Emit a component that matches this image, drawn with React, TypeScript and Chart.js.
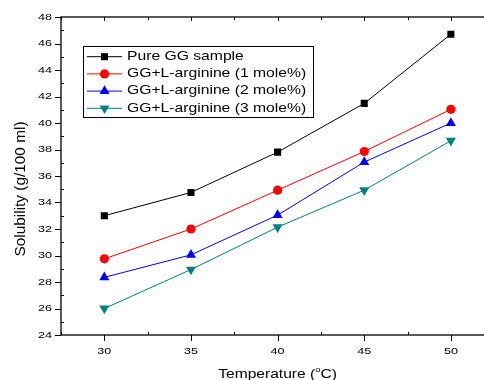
import React, { useEffect, useRef } from "react";
import { Chart, registerables } from "chart.js";

Chart.register(...registerables);

const temperatures = [30, 35, 40, 45, 50];
const pureGG = [33.0, 34.76, 37.8, 41.48, 46.7];
const arg1 = [29.75, 32.0, 34.93, 37.85, 41.03];
const arg2 = [28.35, 30.05, 33.05, 37.05, 40.0];
const arg3 = [26.0, 28.94, 32.14, 34.93, 38.66];
const seriesNames = [
  "Pure GG sample",
  "GG+L-arginine (1 mole%)",
  "GG+L-arginine (2 mole%)",
  "GG+L-arginine (3 mole%)",
];
const xTicks = [30, 35, 40, 45, 50];
const xMinorTicks = [27.5, 32.5, 37.5, 42.5, 47.5, 52.5];
const yTicks = [24, 26, 28, 30, 32, 34, 36, 38, 40, 42, 44, 46, 48];
const yMinorTicks = [25, 27, 29, 31, 33, 35, 37, 39, 41, 43, 45, 47];
const xTitle = "Temperature (";
const xTitleSup = "o";
const xTitleEnd = "C)";
const yTitle = "Solubility (g/100 ml)";

const FONT = "'Liberation Sans', Arial, sans-serif";
const SQUASH = 0.775;

type Style = { color: string; point: string; radius: number; rotation: number };
const styles: Style[] = [
  { color: "#000000", point: "rect", radius: 5, rotation: 0 },
  { color: "#ff0000", point: "circle", radius: 4.6, rotation: 0 },
  { color: "#0000ff", point: "triangle", radius: 5.8, rotation: 0 },
  { color: "#008080", point: "triangle", radius: 5.8, rotation: 180 },
];

function drawText(
  ctx: CanvasRenderingContext2D,
  text: string,
  x: number,
  y: number,
  size: number,
  align: CanvasTextAlign,
  baseline: CanvasTextBaseline
) {
  ctx.save();
  ctx.translate(x, y);
  ctx.scale(1, SQUASH);
  ctx.font = `${size}px ${FONT}`;
  ctx.textAlign = align;
  ctx.textBaseline = baseline;
  ctx.fillStyle = "#000";
  ctx.fillText(text, 0, 0);
  ctx.restore();
}

function drawMarker(ctx: CanvasRenderingContext2D, s: Style, x: number, y: number) {
  ctx.save();
  ctx.fillStyle = s.color;
  ctx.beginPath();
  const r = s.radius;
  if (s.point === "rect") {
    const h = Math.SQRT1_2 * r;
    ctx.rect(x - h, y - h, 2 * h, 2 * h);
  } else if (s.point === "circle") {
    ctx.arc(x, y, r, 0, Math.PI * 2);
  } else {
    const dir = s.rotation === 180 ? -1 : 1;
    ctx.moveTo(x, y - dir * r);
    ctx.lineTo(x + r * Math.cos(Math.PI / 6), y + dir * r * 0.5);
    ctx.lineTo(x - r * Math.cos(Math.PI / 6), y + dir * r * 0.5);
    ctx.closePath();
  }
  ctx.fill();
  ctx.restore();
}

const framePlugin = {
  id: "framePlugin",
  afterDraw(chart: any) {
    const ctx: CanvasRenderingContext2D = chart.ctx;
    const { left, right, top, bottom } = chart.chartArea;
    const xs = chart.scales.x;
    const ys = chart.scales.y;
    ctx.save();
    ctx.strokeStyle = "#000";
    ctx.lineWidth = 1.3;
    ctx.strokeRect(left, top, right - left, bottom - top);
    ctx.lineWidth = 1;
    ctx.beginPath();
    // x ticks
    xTicks.forEach((v) => {
      const px = Math.round(xs.getPixelForValue(v)) + 0.5;
      ctx.moveTo(px, bottom);
      ctx.lineTo(px, bottom + 6);
      ctx.moveTo(px, top);
      ctx.lineTo(px, top + 4);
    });
    xMinorTicks.forEach((v) => {
      const px = Math.round(xs.getPixelForValue(v)) + 0.5;
      ctx.moveTo(px, bottom);
      ctx.lineTo(px, bottom - 3);
      ctx.moveTo(px, top);
      ctx.lineTo(px, top + 3);
    });
    yTicks.forEach((v) => {
      const py = Math.round(ys.getPixelForValue(v)) + 0.5;
      ctx.moveTo(left, py);
      ctx.lineTo(left - 6, py);
      ctx.moveTo(right, py);
      ctx.lineTo(right - 4, py);
    });
    yMinorTicks.forEach((v) => {
      const py = Math.round(ys.getPixelForValue(v)) + 0.5;
      ctx.moveTo(left, py);
      ctx.lineTo(left + 3, py);
      ctx.moveTo(right, py);
      ctx.lineTo(right - 3, py);
    });
    ctx.stroke();

    // tick labels
    xTicks.forEach((v) => {
      drawText(ctx, String(v), xs.getPixelForValue(v), 351, 12.6, "center", "middle");
    });
    yTicks.forEach((v) => {
      drawText(ctx, String(v), left - 9, ys.getPixelForValue(v), 12.6, "right", "middle");
    });

    // x title with superscript
    ctx.font = `15.6px ${FONT}`;
    const w1 = ctx.measureText(xTitle).width;
    ctx.font = `9.5px ${FONT}`;
    const w2 = ctx.measureText(xTitleSup).width;
    ctx.font = `15.6px ${FONT}`;
    const w3 = ctx.measureText(xTitleEnd).width;
    const total = w1 + w2 + w3;
    const cx = (left + right) / 2;
    let sx = cx - total / 2;
    drawText(ctx, xTitle, sx, 377.5, 15.6, "left", "alphabetic");
    drawText(ctx, xTitleSup, sx + w1, 372, 9.5, "left", "alphabetic");
    drawText(ctx, xTitleEnd, sx + w1 + w2, 377.5, 15.6, "left", "alphabetic");

    // y title
    ctx.save();
    ctx.translate(24.5, 189);
    ctx.rotate(-Math.PI / 2);
    ctx.font = `15.4px ${FONT}`;
    ctx.textAlign = "center";
    ctx.textBaseline = "alphabetic";
    ctx.fillStyle = "#000";
    ctx.fillText(yTitle, 0, 0);
    ctx.restore();

    // legend
    ctx.lineWidth = 1;
    ctx.strokeStyle = "#000";
    ctx.strokeRect(83.5, 46.5, 230, 71);
    seriesNames.forEach((name, i) => {
      const y = 56.7 + i * 17.2;
      const s = styles[i];
      ctx.save();
      ctx.strokeStyle = s.color;
      ctx.lineWidth = 1;
      ctx.beginPath();
      ctx.moveTo(87, y);
      ctx.lineTo(122, y);
      ctx.stroke();
      ctx.restore();
      drawMarker(ctx, s, 104.5, y);
      drawText(ctx, name, 127, y, 15.7, "left", "middle");
    });
    ctx.restore();
  },
};

export default function App() {
  const ref = useRef<HTMLCanvasElement>(null);
  useEffect(() => {
    if (!ref.current) return;
    const series = [pureGG, arg1, arg2, arg3];
    const chart = new Chart(ref.current, {
      type: "line",
      data: {
        datasets: series.map((vals, i) => ({
          label: seriesNames[i],
          data: temperatures.map((t, j) => ({ x: t, y: vals[j] })),
          borderColor: styles[i].color,
          backgroundColor: styles[i].color,
          borderWidth: 1,
          pointStyle: styles[i].point as any,
          pointRadius: styles[i].radius,
          pointRotation: styles[i].rotation,
          pointBorderWidth: 0,
          pointBackgroundColor: styles[i].color,
          tension: 0,
          fill: false,
        })),
      },
      options: {
        animation: false,
        responsive: false,
        layout: { padding: { left: 61, top: 17, right: 5, bottom: 45 } },
        plugins: { legend: { display: false }, tooltip: { enabled: false } },
        scales: {
          x: { type: "linear", min: 27.5, max: 52.5, display: false },
          y: { type: "linear", min: 24, max: 48, display: false },
        },
      },
      plugins: [framePlugin],
    });
    return () => chart.destroy();
  }, []);
  return (
    <div
      style={{
        position: "absolute",
        left: 0,
        top: 0,
        width: 484,
        height: 380,
        overflow: "hidden",
        background: "#fff",
      }}
    >
      <canvas ref={ref} width={500} height={380} style={{ display: "block" }} />
    </div>
  );
}
